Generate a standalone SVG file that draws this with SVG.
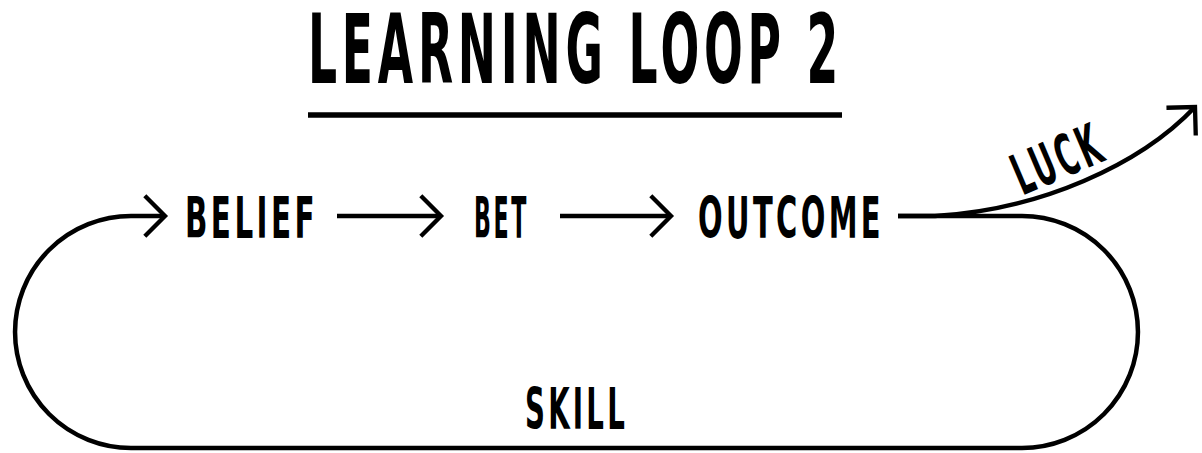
<svg xmlns="http://www.w3.org/2000/svg" width="1202" height="453" viewBox="0 0 1202 453">
  <style>
    .t { font-family: "DejaVu Sans", "Liberation Sans", sans-serif; font-weight: bold; font-stretch: condensed; fill: #000; }
    .lbl { font-size: 57px; letter-spacing: 6px; }
    .ln { fill: none; stroke: #000; stroke-width: 4.5; stroke-linecap: butt; stroke-linejoin: round; }
  </style>
  <defs>
    <marker id="chev" markerUnits="userSpaceOnUse" markerWidth="40" markerHeight="50" viewBox="-26 -26 30 52" refX="0" refY="0" orient="auto">
      <path d="M -21 -21 L 0 0 L -21 21" fill="none" stroke="#000" stroke-width="4.5" stroke-linejoin="miter" stroke-linecap="butt"/>
    </marker>
  </defs>
  <rect width="1202" height="453" fill="#fff"/>

  <g id="title">
    <text class="t" x="308" y="83" font-size="96" letter-spacing="9" textLength="535" lengthAdjust="spacingAndGlyphs">LEARNING LOOP 2</text>
    <line x1="308" y1="115" x2="842" y2="115" stroke="#000" stroke-width="5.5"/>
  </g>

  <g id="connectors">
    <path class="ln" d="M 337 216 L 441 216" marker-end="url(#chev)"/>
    <path class="ln" d="M 560 216 L 671 216" marker-end="url(#chev)"/>
    <path class="ln" d="M 898 216 L 1022 216 A 116 116 0 0 1 1022 448 L 131 448 A 116 116 0 0 1 131 216 L 165 216" marker-end="url(#chev)"/>
    <path class="ln" d="M 898 216 L 935 216 C 1040 210 1140 165 1195 107" marker-end="url(#chev)"/>
  </g>

  <g id="belief"><text class="t lbl" x="185" y="238" textLength="133" lengthAdjust="spacingAndGlyphs">BELIEF</text></g>
  <g id="bet"><text class="t lbl" x="474" y="238" textLength="55" lengthAdjust="spacingAndGlyphs">BET</text></g>
  <g id="outcome"><text class="t lbl" x="698" y="238" textLength="186" lengthAdjust="spacingAndGlyphs">OUTCOME</text></g>
  <g id="skill"><text class="t lbl" x="525" y="429" textLength="103" lengthAdjust="spacingAndGlyphs">SKILL</text></g>
  <g id="luck"><text class="t lbl" transform="translate(1058,160) rotate(-23)" x="-47" y="19" font-size="53" textLength="95" lengthAdjust="spacingAndGlyphs">LUCK</text></g>
</svg>
